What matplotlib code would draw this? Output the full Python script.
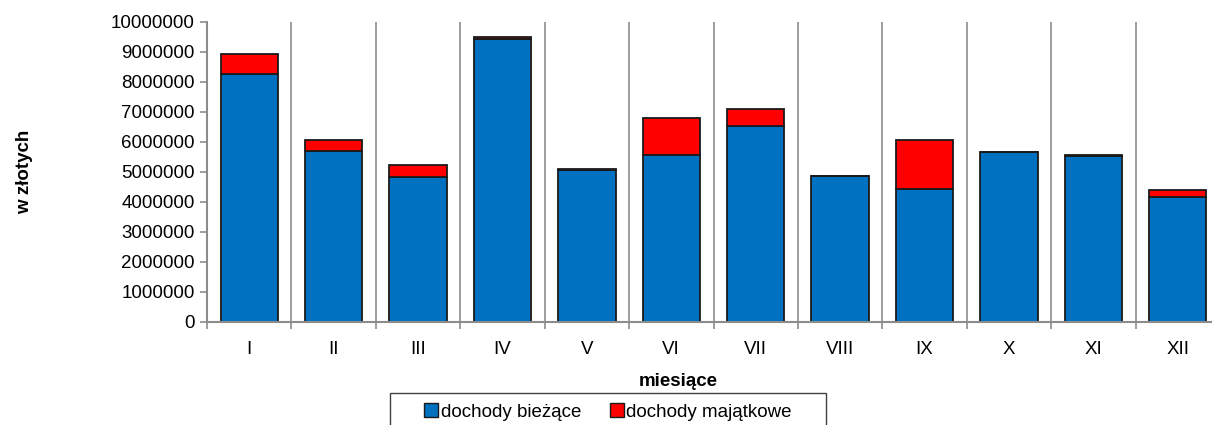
import numpy as np
import matplotlib.pyplot as plt
from matplotlib.ticker import MultipleLocator, FixedLocator
from matplotlib.patches import Rectangle

plt.rcParams['font.family'] = ['Liberation Sans', 'DejaVu Sans']

months = ['I', 'II', 'III', 'IV', 'V', 'VI', 'VII', 'VIII', 'IX', 'X', 'XI', 'XII']
biezace = [8260000, 5700000, 4810000, 9430000, 5050000, 5560000,
           6530000, 4860000, 4420000, 5660000, 5540000, 4160000]
majatkowe = [660000, 360000, 410000, 60000, 40000, 1230000,
             550000, 10000, 1650000, 10000, 20000, 240000]

BLUE = '#0070C0'
RED = '#FF0000'
GRID = '#8C8C8C'
FS = 13.5

W, H = 1212, 425
fig = plt.figure(figsize=(W / 100, H / 100), dpi=100)
ax = fig.add_axes([207 / W, 1 - 321.7 / H, (1220 - 207) / W, 300 / H])

x = np.arange(len(months))
bar_kw = dict(width=0.68, edgecolor='#1a1a1a', linewidth=1.3, zorder=3)
ax.bar(x, biezace, color=BLUE, label='dochody bieżące', **bar_kw)
ax.bar(x, majatkowe, bottom=biezace, color=RED, label='dochody majątkowe', **bar_kw)

ax.set_xlim(-0.5, len(months) - 0.5)
ax.set_ylim(0, 10000000)
ax.yaxis.set_major_locator(MultipleLocator(1000000))
ax.yaxis.set_major_formatter(plt.FuncFormatter(lambda v, p: f'{int(v)}'))

ax.set_xticks(x)
ax.set_xticklabels(months)
ax.xaxis.set_minor_locator(FixedLocator(np.arange(-0.5, len(months), 1.0)))
ax.tick_params(axis='x', which='major', length=0, pad=14, labelsize=FS)
ax.tick_params(axis='x', which='minor', length=5, width=1.2, color=GRID, direction='out')
ax.tick_params(axis='y', length=5, width=1.2, color=GRID, direction='out', labelsize=FS, pad=4)
ax.grid(axis='x', which='minor', color=GRID, linewidth=1.2, zorder=0)

for side in ['top', 'right']:
    ax.spines[side].set_visible(False)
for side in ['left', 'bottom']:
    ax.spines[side].set_color(GRID)
    ax.spines[side].set_linewidth(1.5)
ax.spines['bottom'].set_zorder(4)

ax.set_ylabel('w złotych', fontsize=FS, fontweight='bold', labelpad=0)
ax.yaxis.set_label_coords(-174 / 1013, 0.5)
fig.text(678 / W, 1 - 381 / H, 'miesiące', fontsize=FS, fontweight='bold',
         ha='center', va='center')

# legend box (cut off at the bottom edge, like the original)
fig.patches.append(Rectangle((390 / W, -0.05), (826 - 390) / W, 0.05 + 1 - 393 / H,
                             transform=fig.transFigure, facecolor='white',
                             edgecolor='#404040', linewidth=1.0))
leg = fig.legend(loc='center', bbox_to_anchor=(608 / W, 1 - 412 / H),
                 ncol=2, fontsize=FS, frameon=False,
                 handlelength=0.75, handleheight=0.75,
                 handletextpad=0.15, columnspacing=1.5, borderpad=0)
for h in leg.legend_handles:
    h.set_linewidth(1.0)

fig.savefig('out.png', dpi=100)
